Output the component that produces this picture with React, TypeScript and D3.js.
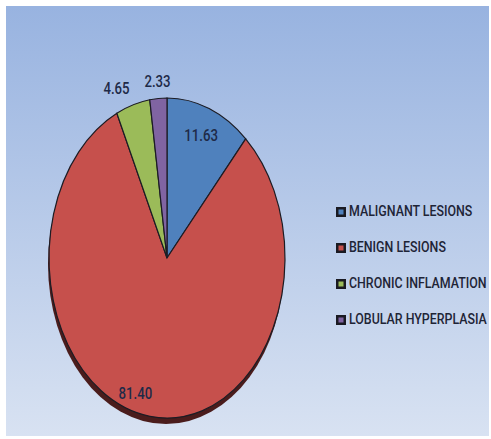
import React from 'react';
import * as d3 from 'd3';

const categories = ['MALIGNANT LESIONS', 'BENIGN LESIONS', 'CHRONIC INFLAMATION', 'LOBULAR HYPERPLASIA'];
const values = [11.63, 81.4, 4.65, 2.33];
const colors = ['#4f81bd', '#c6504c', '#9bbb59', '#8064a2'];

const W = 491;
const H = 439;
const cx = 167;
const cy = 258;
const rx = 118;
const ry = 160;
const font = "Roboto, 'Liberation Sans', sans-serif";
const squeeze = 0.8; // letra condensada tipo Calibri

type Row = { label: string; value: number; color: string };

const App = () => {
  const rows: Row[] = categories.map((c, i) => ({ label: c, value: values[i], color: colors[i] }));
  const pie = d3.pie<Row>().sort(null).value(d => d.value);
  const arcs = pie(rows);
  const arc = d3.arc<d3.PieArcDatum<Row>>().innerRadius(0).outerRadius(1);
  const total = d3.sum(values);

  // posicion de etiquetas en coordenadas de la elipse
  const labelPos = (a: d3.PieArcDatum<Row>) => {
    const mid = (a.startAngle + a.endAngle) / 2;
    const share = a.value / total;
    const k = share < 0.08 ? 1.1 : share > 0.5 ? 0.86 : 0.81;
    return {
      x: cx + Math.sin(mid) * k * rx,
      y: cy - Math.cos(mid) * k * ry,
      anchor: Math.sin(mid) < -0.12 ? 'end' : 'middle',
    };
  };

  const legendY = d3.scalePoint<string>().domain(categories).range([212, 320]);

  return (
    <svg width={W} height={H} style={{ position: 'absolute', left: 0, top: 0 }}>
      <defs>
        <linearGradient id="bg" x1="0" y1="0" x2="0" y2="1">
          <stop offset="0" stopColor="#98b3e0" />
          <stop offset="1" stopColor="#d8e2f2" />
        </linearGradient>
      </defs>
      <rect x={0} y={0} width={W} height={H} fill="#fff" />
      <rect x={6} y={6} width={W - 8} height={H - 9} fill="url(#bg)" />

      {/* sombra / canto inferior */}
      <ellipse cx={cx - 1} cy={cy + 6} rx={rx} ry={ry} fill="#4a1c1c" />

      <g transform={`translate(${cx},${cy}) scale(${rx},${ry})`}>
        {arcs.map((a, i) => (
          <path
            key={i}
            d={arc(a) || ''}
            fill={a.data.color}
            stroke="#1c1c24"
            strokeWidth={1.2}
            vectorEffect="non-scaling-stroke"
          />
        ))}
      </g>

      {arcs.map((a, i) => {
        const p = labelPos(a);
        return (
          <text
            key={i}
            transform={`translate(${p.x},${p.y}) scale(${squeeze},1)`}
            textAnchor={p.anchor}
            dominantBaseline="middle"
            fontFamily={font}
            fontSize={16.5}
            fontWeight={500}
            fill="#1e2a48"
          >
            {a.data.value.toFixed(2)}
          </text>
        );
      })}

      {rows.map((r, i) => {
        const y = legendY(r.label) as number;
        return (
          <g key={i}>
            <rect x={336} y={y - 5} width={10} height={10} fill="#1a1a22" />
            <rect x={338.5} y={y - 2.5} width={5} height={5} fill={r.color} />
            <text
              transform={`translate(349,${y}) scale(${squeeze},1)`}
              dominantBaseline="middle"
              fontFamily={font}
              fontSize={15.5}
              fontWeight={500}
              fill="#1e2436"
            >
              {r.label}
            </text>
          </g>
        );
      })}
    </svg>
  );
};

export default App;
